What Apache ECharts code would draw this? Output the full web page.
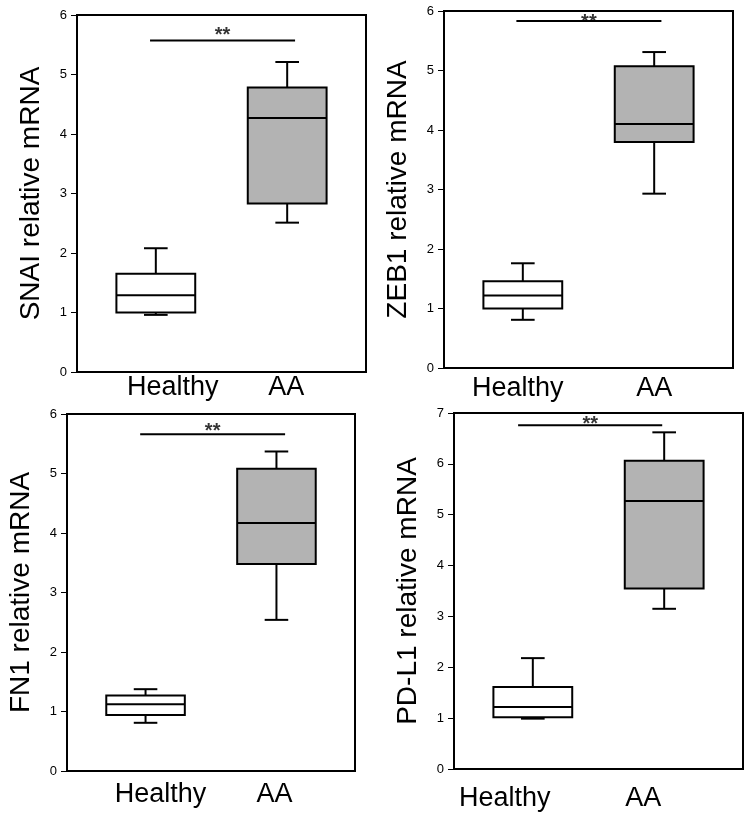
<!DOCTYPE html>
<html>
<head>
<meta charset="utf-8">
<script src="https://cdn.jsdelivr.net/npm/echarts@6/dist/echarts.min.js"></script>
<style>
  html, body { margin: 0; background: #fff; }
  #chart { width: 749px; height: 816px; }
</style>
</head>
<body>
<div id="chart"></div>
<script>
const groups = ['Healthy', 'AA']
const genes = ['SNAI', 'ZEB1', 'FN1', 'PD-L1']

// per group: low whisker, Q1, median, Q3, high whisker
const snaiBoxes = [[0.96, 1.00, 1.29, 1.65, 2.08], [2.51, 2.83, 4.27, 4.78, 5.21]]
const zeb1Boxes = [[0.81, 1.00, 1.22, 1.46, 1.76], [2.93, 3.80, 4.10, 5.07, 5.31]]
const fn1Boxes = [[0.81, 0.94, 1.12, 1.27, 1.375], [2.54, 3.48, 4.17, 5.08, 5.37]]
const pdl1Boxes = [[0.99, 1.02, 1.22, 1.61, 2.18], [3.15, 3.55, 5.27, 6.06, 6.62]]

// significance bar: x from, x to, y
const sigBars = [[0.956, 2.06, 5.57], [0.951, 2.055, 5.83], [0.959, 2.066, 5.66], [0.888, 1.985, 6.76]]
const yMax = [6, 6, 6, 7]

const allBoxes = [snaiBoxes, zeb1Boxes, fn1Boxes, pdl1Boxes]

// layout / style
const FONT = '"Liberation Sans", Arial, sans-serif'
const grids = [
  { left: 77, top: 15, width: 289, height: 357 },
  { left: 444, top: 11, width: 289, height: 357 },
  { left: 67, top: 414, width: 288, height: 357 },
  { left: 454, top: 413, width: 289, height: 356 }
]
const labelShift = [[17, -1], [-5, 0], [15, -2], [-28, -21]]
const labelMargin = [2, 7, 10, 16]
const starOffset = [-5, 1, -3, -1]
const fills = ['#ffffff', '#b3b3b3']
const BOX_W = 0.6
const CAP_W = 0.18

function renderBox(params, api) {
  const x = api.value(0)
  const [lo, q1, med, q3, hi] = [1, 2, 3, 4, 5].map(i => api.coord([x, api.value(i)]))
  const half = api.size([BOX_W, 0])[0] / 2
  const cap = api.size([CAP_W, 0])[0] / 2
  const cx = lo[0]
  const line = (x1, y1, x2, y2) => ({
    type: 'line', shape: { x1, y1, x2, y2 }, style: { stroke: '#000', lineWidth: 2 }
  })
  return {
    type: 'group',
    children: [
      line(cx, hi[1], cx, q3[1]),
      line(cx, q1[1], cx, lo[1]),
      line(cx - cap, hi[1], cx + cap, hi[1]),
      line(cx - cap, lo[1], cx + cap, lo[1]),
      {
        type: 'rect',
        shape: { x: cx - half, y: q3[1], width: half * 2, height: q1[1] - q3[1] },
        style: { fill: fills[params.dataIndex], stroke: '#000', lineWidth: 2 }
      },
      line(cx - half, med[1], cx + half, med[1])
    ]
  }
}

const grid = [], xAxis = [], yAxis = [], series = []

genes.forEach((gene, i) => {
  grid.push(Object.assign({
    show: true, borderColor: '#000', borderWidth: 2, backgroundColor: 'transparent'
  }, grids[i]))

  const shift = labelShift[i]
  const pad = s => s >= 0 ? [0, 0, 0, 2 * s] : [0, -2 * s, 0, 0]
  xAxis.push({
    gridIndex: i, type: 'value', min: 0.4, max: 2.6,
    splitLine: { show: false },
    axisTick: { show: false },
    axisLine: { show: true, lineStyle: { color: '#000', width: 2 } },
    axisLabel: {
      customValues: [1, 2],
      margin: labelMargin[i],
      formatter: v => `{g${Math.round(v)}|${groups[Math.round(v) - 1]}}`,
      rich: {
        g1: { fontSize: 27, fontFamily: FONT, color: '#000', padding: pad(shift[0]) },
        g2: { fontSize: 27, fontFamily: FONT, color: '#000', padding: pad(shift[1]) }
      }
    }
  })

  yAxis.push({
    gridIndex: i, type: 'value', min: 0, max: yMax[i], interval: 1,
    name: `${gene} relative mRNA`,
    nameLocation: 'middle', nameGap: 32,
    nameTextStyle: { fontSize: 28, fontFamily: FONT, color: '#000' },
    splitLine: { show: false },
    axisLine: { show: true, lineStyle: { color: '#000', width: 2 } },
    axisTick: { show: true, inside: false, length: 6, lineStyle: { color: '#000', width: 1 } },
    axisLabel: { fontSize: 13, fontFamily: FONT, color: '#000', margin: 10 }
  })

  series.push({
    type: 'custom', xAxisIndex: i, yAxisIndex: i,
    renderItem: renderBox,
    encode: { x: 0, y: [1, 2, 3, 4, 5] },
    data: allBoxes[i].map((b, k) => [k + 1, ...b]),
    silent: true, z: 3
  })

  const [x1, x2, y] = sigBars[i]
  series.push({
    type: 'line', xAxisIndex: i, yAxisIndex: i,
    data: [[x1, y], [x2, y]],
    symbol: 'none', silent: true,
    lineStyle: { color: '#000', width: 2 }
  })
  series.push({
    type: 'scatter', xAxisIndex: i, yAxisIndex: i,
    data: [[(x1 + x2) / 2, y]],
    symbolSize: 0, silent: true,
    label: {
      show: true, position: 'inside', offset: [0, starOffset[i]],
      formatter: '**', fontSize: 20, fontWeight: 'bold', fontFamily: FONT, color: '#000'
    }
  })
})

const chart = echarts.init(document.getElementById('chart'))
chart.setOption({ animation: false, grid, xAxis, yAxis, series })
</script>
</body>
</html>
